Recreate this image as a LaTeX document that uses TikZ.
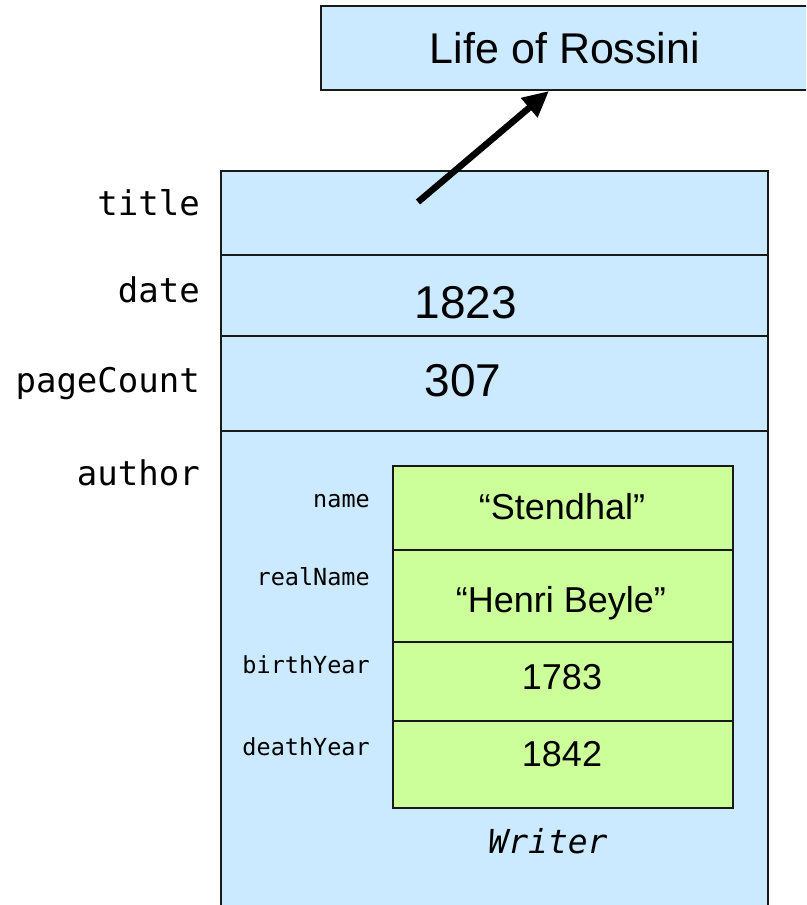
\documentclass[tikz,border=0pt]{standalone}
\usepackage{fontspec}
\setmainfont{Liberation Sans}
\newfontfamily\codefont{DejaVu Sans Mono}
\usetikzlibrary{arrows.meta}

\definecolor{objblue}{RGB}{204,234,255}
\definecolor{objgreen}{RGB}{204,255,153}
\definecolor{edge}{RGB}{25,25,25}

\tikzset{
  cellbox/.style={draw=edge, line width=2pt, inner sep=0pt, anchor=north west},
  bluecell/.style={cellbox, fill=objblue},
  greencell/.style={cellbox, fill=objgreen},
  bigval/.style={font=\fontsize{46}{50}\selectfont, anchor=base, inner sep=0pt},
  midval/.style={font=\fontsize{36}{40}\selectfont, anchor=base, inner sep=0pt},
  fieldname/.style={font=\codefont\fontsize{34}{40}\selectfont, anchor=base east, inner sep=0pt},
  subfield/.style={font=\codefont\fontsize{23.5}{28}\selectfont, anchor=base east, inner sep=0pt},
  typename/.style={font=\codefont\itshape\fontsize{33}{38}\selectfont, anchor=base, inner sep=0pt},
  pointer/.style={line width=6.5pt, -{Triangle[length=26pt,width=24pt]}}
}

\begin{document}
\begin{tikzpicture}[x=1pt, y=-1pt]
  \useasboundingbox (0,0) rectangle (806,905);
  \clip (0,0) rectangle (806,905);

  % referenced string object
  \node[bluecell, minimum width=488, minimum height=84,
        font=\fontsize{43}{48}\selectfont] (rossini) at (320,5) {Life of Rossini};

  % Book object: one row per field
  \node[bluecell, minimum width=547, minimum height=84]  (titlerow)  at (220,170) {};
  \node[bluecell, minimum width=547, minimum height=81]  (daterow)   at (220,254) {};
  \node[bluecell, minimum width=547, minimum height=95]  (pagerow)   at (220,335) {};
  \node[bluecell, minimum width=547, minimum height=510] (authorrow) at (220,430) {};

  % field names of the Book
  \node[fieldname] (ltitle)  at (200,215) {title};
  \node[fieldname] (ldate)   at (200,302) {date};
  \node[fieldname] (lpage)   at (200,392) {pageCount};
  \node[fieldname] (lauthor) at (200,485) {author};

  % field values of the Book
  \node[bigval] (vdate) at (466,318) {1823};
  \node[bigval] (vpage) at (463,396) {307};

  % embedded Writer object
  \node[greencell, minimum width=340, minimum height=84] (namerow)  at (392,465) {};
  \node[greencell, minimum width=340, minimum height=92] (realrow)  at (392,549) {};
  \node[greencell, minimum width=340, minimum height=79] (birthrow) at (392,641) {};
  \node[greencell, minimum width=340, minimum height=87] (deathrow) at (392,720) {};

  \node[subfield] (lname)  at (370,507) {name};
  \node[subfield] (lreal)  at (370,585) {realName};
  \node[subfield] (lbirth) at (370,673) {birthYear};
  \node[subfield] (ldeath) at (370,755) {deathYear};

  \node[midval] (vname)  at (562,519) {“Stendhal”};
  \node[midval] (vreal)  at (561,612) {“Henri Beyle”};
  \node[midval] (vbirth) at (562,689) {1783};
  \node[midval] (vdeath) at (562,766) {1842};

  \node[typename] (wtype) at (548,853) {Writer};

  % reference from the title field to the string
  \coordinate (tail) at (418,202);
  \coordinate (head) at (549,0);
  \draw[pointer] (tail) -- (rossini.south -| head);
\end{tikzpicture}
\end{document}
